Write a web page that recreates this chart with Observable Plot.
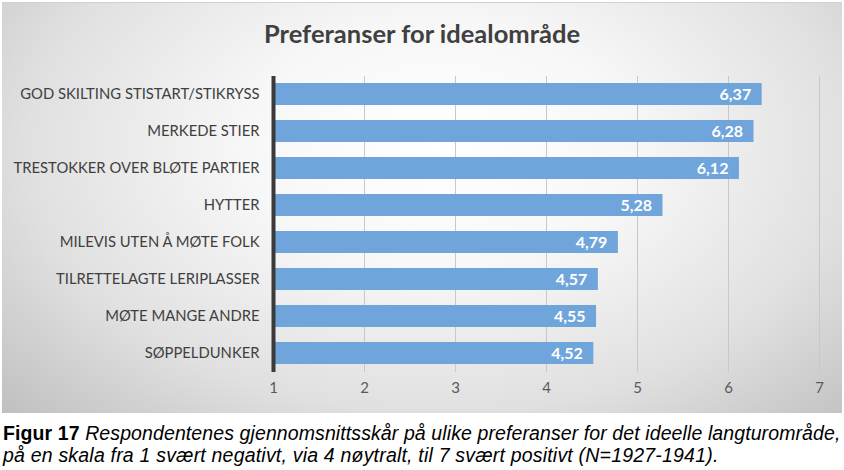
<!DOCTYPE html>
<html>
<head>
<meta charset="utf-8">
<script src="https://cdn.jsdelivr.net/npm/d3@7"></script>
<script src="https://cdn.jsdelivr.net/npm/@observablehq/plot@0.6"></script>
<style>
  html, body { margin: 0; padding: 0; background: #fff; }
  #wrap { position: relative; width: 840px; height: 410px; margin-left: 2px; margin-top: 2px;
    background: radial-gradient(ellipse 72% 95% at 52% 35%, #ffffff 0%, #f7f7f7 32%, #e0e0e0 68%, #bfbfbf 100%);
    border-top: 1px solid #d0d0d0; }
  #title { position: absolute; left: 0; width: 840px; top: 15px; text-align: center;
    font-family: Lato, "Open Sans", sans-serif; font-weight: bold; font-size: 25.5px; color: #404040; }
  #chart { position: absolute; left: 0; top: 0; }
  #caption { font-family: "Liberation Sans", Arial, sans-serif; font-size: 19.5px; line-height: 22px;
    color: #000; margin: 9px 0 0 3px; white-space: nowrap; }
  #caption .l1 { letter-spacing: 0.1px; }
  #caption .l2 { letter-spacing: 0.2px; }
  #caption b { font-style: normal; }
  #caption i { font-style: italic; }
</style>
</head>
<body>
<div id="wrap">
  <div id="chart"></div>
  <div id="title">Preferanser for idealområde</div>
</div>
<div id="caption"><span class="l1"><b>Figur 17</b> <i>Respondentenes gjennomsnittsskår på ulike preferanser for det ideelle langturområde,</i></span><br><span class="l2"><i>på en skala fra 1 svært negativt, via 4 nøytralt, til 7 svært positivt (N=1927-1941).</i></span></div>
<script>
const categories = [
  "GOD SKILTING STISTART/STIKRYSS",
  "MERKEDE STIER",
  "TRESTOKKER OVER BLØTE PARTIER",
  "HYTTER",
  "MILEVIS UTEN Å MØTE FOLK",
  "TILRETTELAGTE LERIPLASSER",
  "MØTE MANGE ANDRE",
  "SØPPELDUNKER"
];
const values = [6.37, 6.28, 6.12, 5.28, 4.79, 4.57, 4.55, 4.52];
const xTicks = [1, 2, 3, 4, 5, 6, 7];

const data = categories.map((c, i) => ({category: c, value: values[i]}));
const fmt = v => v.toFixed(2).replace(".", ",");

const plot = Plot.plot({
  width: 840,
  height: 410,
  marginTop: 73,
  marginBottom: 41,
  marginLeft: 271,
  marginRight: 23,
  style: {background: "transparent", fontFamily: "Lato, 'Open Sans', sans-serif"},
  x: {domain: [1, 7], ticks: xTicks},
  y: {domain: categories, padding: 0.4, paddingOuter: 0.2, label: null},
  marks: [
    Plot.gridX(xTicks.slice(1), {stroke: "#c8c8c8", strokeOpacity: 1, strokeWidth: 1}),
    Plot.barX(data, {y: "category", x1: 1, x2: "value", fill: "#6fa5db"}),
    Plot.text(data, {y: "category", x: "value", text: d => fmt(d.value), textAnchor: "end", dx: -11,
      fill: "#ffffff", fontWeight: "bold", fontSize: 16}),
    Plot.ruleX([1], {stroke: "#3a3a3a", strokeWidth: 4}),
    Plot.axisX(xTicks, {tickSize: 0, tickPadding: 10, fontSize: 15, color: "#595959", label: null}),
    Plot.axisY({tickSize: 0, tickPadding: 14, fontSize: 14.8, color: "#404040", label: null})
  ]
});
document.getElementById("chart").appendChild(plot);
</script>
</body>
</html>
